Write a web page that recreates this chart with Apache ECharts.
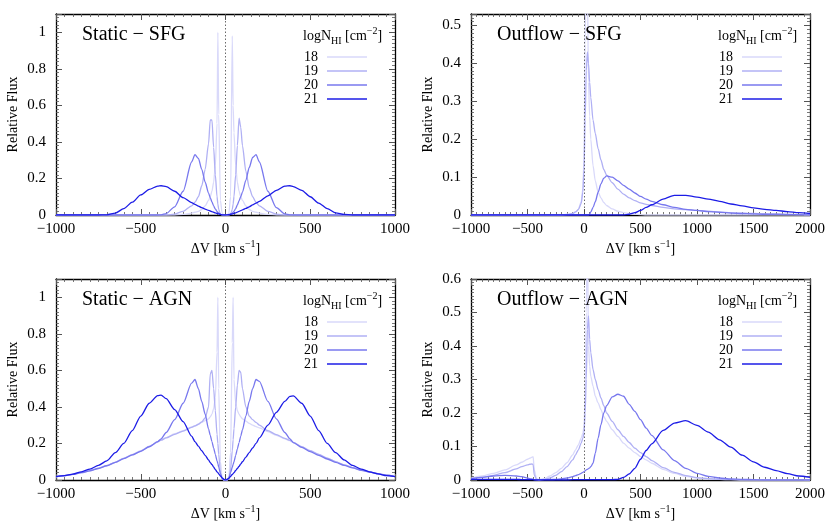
<!DOCTYPE html>
<html>
<head>
<meta charset="utf-8">
<script src="https://cdn.jsdelivr.net/npm/echarts@6/dist/echarts.min.js"></script>
<style>
  html, body { margin: 0; padding: 0; background: #fff; }
  #chart { width: 830px; height: 531px; }
</style>
</head>
<body>
<div id="chart"></div>
<script>
// column densities (legend)
var columns = ['18', '19', '20', '21'];
var colors = ['#d9d9fa', '#b0b0f4', '#7878ee', '#1c1ce6'];

// velocity grid of the static panels, km/s
var staticV = [
  -1000,-950,-900,-850,-800,-750,-700,-650,-600,-550,-500,-450,-400,
  -380,-350,-300,-250,-200,-180,-160,-140,-120,-100,
  -90,-80,-70,-60,-50,-45,-40,-30,-20,-10,
  0,10,20,30,40,45,50,60,70,80,90,
  100,120,140,160,180,200,250,300,350,380,
  400,450,500,550,600,650,700,750,800,850,900,950,1000];

// velocity grid of the outflow panels, km/s
var outflowV = [
  -1000,-900,-800,-700,-600,-550,-500,-480,-460,-450,-440,-420,-400,
  -350,-300,-250,-200,-150,-100,-75,-50,-25,-10,
  0,10,20,30,40,50,60,
  80,100,125,150,175,200,250,300,350,400,450,500,550,600,
  700,800,900,1000,1100,1200,1300,1400,1500,1600,1700,1800,1900,2000];

// Static - SFG
var staticSfg18 = [
  0,0,0,0,0,0,0,0,0,0,0,0,0,
  0,0,0,0.003,0.01,0.015,0.02,0.03,0.05,0.08,
  0.1,0.13,0.18,0.27,0.5,1.0,0.55,0.08,0.01,0,
  0,0,0.01,0.1,0.98,0.6,0.45,0.27,0.18,0.13,0.1,
  0.08,0.05,0.03,0.02,0.015,0.01,0.003,0,0,0,
  0,0,0,0,0,0,0,0,0,0,0,0,0];
var staticSfg19 = [
  0,0,0,0,0,0,0,0,0,0,0,0,0,
  0,0,0.005,0.02,0.05,0.07,0.1,0.16,0.25,0.39,
  0.52,0.52,0.37,0.22,0.1,0.06,0.03,0.005,0,0,
  0,0,0,0.005,0.03,0.06,0.1,0.22,0.38,0.53,0.48,
  0.38,0.24,0.15,0.1,0.07,0.05,0.02,0.005,0,0,
  0,0,0,0,0,0,0,0,0,0,0,0,0];
var staticSfg20 = [
  0,0,0,0,0,0,0,0,0,0,0,0,0,
  0.001,0.008,0.045,0.13,0.29,0.33,0.31,0.25,0.18,0.12,
  0.095,0.072,0.05,0.033,0.02,0.015,0.01,0.004,0.001,0,
  0,0,0.001,0.004,0.01,0.015,0.02,0.035,0.055,0.078,0.1,
  0.125,0.19,0.26,0.315,0.33,0.29,0.13,0.04,0.006,0.001,
  0,0,0,0,0,0,0,0,0,0,0,0,0];
var staticSfg21 = [
  0,0,0,0,0,0,0.001,0.01,0.035,0.07,0.11,0.14,0.158,
  0.16,0.155,0.13,0.095,0.068,0.058,0.049,0.04,0.032,0.025,
  0.022,0.018,0.015,0.012,0.009,0.007,0.006,0.003,0.001,0,
  0,0.001,0.002,0.004,0.006,0.007,0.009,0.012,0.016,0.02,0.024,
  0.028,0.036,0.045,0.055,0.065,0.075,0.105,0.135,0.158,0.16,
  0.155,0.135,0.1,0.065,0.035,0.012,0.003,0,0,0,0,0,0];

// Outflow - SFG
var outflowSfg18 = [
  0,0,0,0,0,0,0,0,0,0,0,0,0,
  0,0,0,0,0.002,0.004,0.008,0.015,0.035,0.07,
  0.15,0.45,0.7,0.6,0.35,0.26,0.2,
  0.13,0.09,0.06,0.045,0.033,0.025,0.016,0.01,0.006,0.004,0.002,0.001,0,0,
  0,0,0,0,0,0,0,0,0,0,0,0,0,0];
var outflowSfg19 = [
  0,0,0,0,0,0,0,0,0,0,0,0,0,
  0,0,0,0,0.001,0.004,0.008,0.014,0.03,0.06,
  0.12,0.25,0.38,0.43,0.4,0.35,0.31,
  0.25,0.215,0.175,0.145,0.12,0.105,0.085,0.068,0.055,0.045,0.038,0.032,0.028,0.025,
  0.02,0.016,0.014,0.012,0.01,0.008,0.006,0.005,0.004,0.003,0.002,0.002,0.001,0.001];
var outflowSfg20 = [
  0,0,0,0,0,0,0,0,0,0,0,0,0,
  0,0,0,0,0,0,0,0,0,0,
  0,0,0,0,0,0.002,0.008,
  0.02,0.035,0.06,0.082,0.097,0.103,0.1,0.09,0.078,0.068,0.058,0.049,0.042,0.036,
  0.027,0.02,0.015,0.012,0.009,0.007,0.005,0.004,0.003,0.002,0.002,0.001,0.001,0];
var outflowSfg21 = [
  0,0,0,0,0,0,0,0,0,0,0,0,0,
  0,0,0,0,0,0,0,0,0,0,
  0,0,0,0,0,0,0,
  0,0,0,0,0,0,0,0,0,0.002,0.006,0.012,0.02,0.027,
  0.042,0.052,0.052,0.047,0.042,0.036,0.029,0.024,0.019,0.015,0.012,0.009,0.006,0.004];

// Static - AGN
var staticAgn18 = [
  0.018,0.025,0.032,0.042,0.052,0.065,0.08,0.098,0.12,0.14,0.16,0.185,0.21,
  0.22,0.232,0.253,0.27,0.29,0.297,0.305,0.315,0.325,0.335,
  0.345,0.36,0.39,0.45,0.7,1.0,0.5,0.1,0.01,0,
  0,0,0.02,0.15,0.75,1.0,0.55,0.42,0.38,0.36,0.345,
  0.335,0.322,0.31,0.3,0.292,0.285,0.265,0.245,0.225,0.215,
  0.205,0.18,0.16,0.14,0.12,0.1,0.083,0.068,0.055,0.044,0.035,0.027,0.02];
var staticAgn19 = [
  0.017,0.023,0.031,0.041,0.051,0.064,0.079,0.097,0.118,0.138,0.158,0.183,0.208,
  0.218,0.23,0.25,0.268,0.288,0.296,0.305,0.318,0.34,0.4,
  0.58,0.6,0.5,0.38,0.25,0.2,0.14,0.04,0.005,0,
  0,0,0.01,0.06,0.16,0.22,0.28,0.4,0.52,0.6,0.59,
  0.5,0.4,0.35,0.33,0.315,0.3,0.27,0.248,0.228,0.217,
  0.206,0.182,0.16,0.14,0.12,0.1,0.083,0.068,0.055,0.044,0.035,0.027,0.02];
var staticAgn20 = [
  0.018,0.024,0.031,0.04,0.05,0.063,0.078,0.096,0.117,0.137,0.157,0.182,0.21,
  0.225,0.26,0.33,0.42,0.53,0.55,0.5,0.43,0.36,0.28,
  0.245,0.21,0.175,0.14,0.105,0.09,0.07,0.035,0.01,0,
  0,0,0.01,0.04,0.07,0.085,0.1,0.135,0.17,0.205,0.24,
  0.275,0.35,0.43,0.5,0.55,0.54,0.43,0.335,0.26,0.225,
  0.205,0.178,0.155,0.135,0.115,0.097,0.08,0.066,0.053,0.043,0.034,0.026,0.019];
var staticAgn21 = [
  0.018,0.024,0.032,0.045,0.06,0.08,0.105,0.15,0.2,0.27,0.35,0.42,0.462,
  0.465,0.445,0.385,0.32,0.24,0.21,0.185,0.16,0.135,0.11,
  0.095,0.085,0.07,0.058,0.045,0.04,0.033,0.022,0.012,0.004,
  0,0.004,0.01,0.02,0.03,0.035,0.04,0.052,0.063,0.075,0.088,
  0.1,0.125,0.15,0.175,0.2,0.23,0.3,0.37,0.43,0.458,
  0.46,0.42,0.35,0.27,0.2,0.15,0.11,0.08,0.06,0.045,0.033,0.024,0.018];

// Outflow - AGN
var outflowAgn18 = [
  0.005,0.012,0.02,0.03,0.045,0.053,0.062,0.065,0.068,0.07,0.03,0.004,0.001,
  0.004,0.012,0.022,0.035,0.052,0.075,0.09,0.105,0.125,0.14,
  0.16,0.25,0.5,0.75,0.4,0.34,0.31,
  0.28,0.25,0.23,0.21,0.19,0.175,0.15,0.13,0.11,0.095,0.082,0.07,0.06,0.05,
  0.032,0.02,0.011,0.006,0.003,0.002,0.001,0,0,0,0,0,0,0];
var outflowAgn19 = [
  0.004,0.008,0.014,0.022,0.033,0.04,0.045,0.047,0.048,0.045,0.015,0.002,0,
  0.002,0.006,0.014,0.025,0.04,0.06,0.075,0.09,0.11,0.125,
  0.14,0.2,0.3,0.45,0.49,0.42,0.38,
  0.33,0.3,0.27,0.245,0.222,0.2,0.175,0.15,0.13,0.112,0.095,0.082,0.07,0.058,
  0.037,0.023,0.013,0.007,0.004,0.002,0.001,0,0,0,0,0,0,0];
var outflowAgn20 = [
  0.004,0.008,0.012,0.014,0.012,0.01,0.006,0.004,0.003,0.002,0.001,0,0,
  0.001,0.001,0.002,0.003,0.006,0.01,0.013,0.016,0.02,0.023,
  0.025,0.027,0.03,0.032,0.034,0.036,0.04,
  0.05,0.08,0.125,0.165,0.2,0.222,0.248,0.256,0.25,0.226,0.205,0.18,0.155,0.133,
  0.09,0.058,0.035,0.02,0.011,0.006,0.003,0.002,0.001,0,0,0,0,0];
var outflowAgn21 = [
  0.002,0.002,0.002,0.002,0.002,0.001,0.001,0.001,0.001,0.001,0,0,0,
  0,0,0,0,0,0.001,0.001,0.001,0.001,0.001,
  0.001,0.001,0.001,0.001,0.001,0.001,0.001,
  0.001,0.001,0.001,0.001,0.001,0.001,0.001,0.002,0.008,0.018,0.035,0.062,0.088,0.108,
  0.148,0.17,0.177,0.163,0.143,0.12,0.098,0.074,0.054,0.038,0.028,0.019,0.012,0.008];

var panels = [
  { title: 'Static \u2212 SFG',  v: staticV,  ys: [staticSfg18, staticSfg19, staticSfg20, staticSfg21],
    left: 56,  top: 14,  xMax: 1000, yMax: 1.1,  yStep: 0.2, hideTop: true },
  { title: 'Outflow \u2212 SFG', v: outflowV, ys: [outflowSfg18, outflowSfg19, outflowSfg20, outflowSfg21],
    left: 471, top: 14,  xMax: 2000, yMax: 0.53, yStep: 0.1, hideTop: true },
  { title: 'Static \u2212 AGN',  v: staticV,  ys: [staticAgn18, staticAgn19, staticAgn20, staticAgn21],
    left: 56,  top: 279, xMax: 1000, yMax: 1.1,  yStep: 0.2, hideTop: true },
  { title: 'Outflow \u2212 AGN', v: outflowV, ys: [outflowAgn18, outflowAgn19, outflowAgn20, outflowAgn21],
    left: 471, top: 279, xMax: 2000, yMax: 0.6,  yStep: 0.1, hideTop: false }
];

var font = 'Liberation Serif';
var minus = function (s) { return String(s).replace('-', '\u2212'); };

var grids = [], xAxes = [], yAxes = [], series = [], titles = [], legends = [], graphics = [];

panels.forEach(function (p, k) {
  grids.push({ left: p.left, top: p.top, width: 339, height: 201, show: false });

  var tickIn = { show: true, inside: true, length: 6, lineStyle: { color: '#555', width: 1 } };
  var minorIn = { show: true, splitNumber: 10, length: 3, lineStyle: { color: '#555', width: 0.8 } };
  var frame = { show: true, onZero: false, lineStyle: { color: '#000', width: 1.3 } };

  xAxes.push({
    type: 'value', gridIndex: k, position: 'bottom', min: -1000, max: p.xMax, interval: 500,
    axisLine: frame, axisTick: tickIn, minorTick: minorIn, splitLine: { show: false },
    axisLabel: { formatter: minus, fontFamily: font, fontSize: 15, color: '#000', margin: 7 },
    name: '{a|\u0394V [km s}{p|\u22121}{a|]}', nameLocation: 'middle', nameGap: 24,
    nameTextStyle: { rich: {
      a: { fontFamily: font, fontSize: 14, color: '#000', lineHeight: 20, verticalAlign: 'middle' },
      p: { fontFamily: font, fontSize: 10, color: '#000', lineHeight: 10, verticalAlign: 'top' }
    } }
  });
  xAxes.push({
    type: 'value', gridIndex: k, position: 'top', min: -1000, max: p.xMax, interval: 500,
    axisLine: frame, axisTick: tickIn, minorTick: minorIn, splitLine: { show: false },
    axisLabel: { show: false }
  });
  yAxes.push({
    type: 'value', gridIndex: k, position: 'left', min: 0, max: p.yMax, interval: p.yStep,
    axisLine: frame, axisTick: tickIn, minorTick: minorIn, splitLine: { show: false },
    axisLabel: { fontFamily: font, fontSize: 15, color: '#000', margin: 10, showMaxLabel: !p.hideTop },
    name: 'Relative Flux', nameLocation: 'middle', nameGap: 36,
    nameTextStyle: { fontFamily: font, fontSize: 14, color: '#000' }
  });
  yAxes.push({
    type: 'value', gridIndex: k, position: 'right', min: 0, max: p.yMax, interval: p.yStep,
    axisLine: frame, axisTick: tickIn, minorTick: minorIn, splitLine: { show: false },
    axisLabel: { show: false }
  });

  p.ys.forEach(function (ys, j) {
    var s = {
      name: columns[j], type: 'line', xAxisIndex: 2 * k, yAxisIndex: 2 * k,
      data: p.v.map(function (v, i) { return [v, ys[i]]; }),
      showSymbol: false, smooth: 0.25, smoothMonotone: 'x',
      lineStyle: { color: colors[j], width: 1.3 }, itemStyle: { color: colors[j] },
      z: 3 + j
    };
    if (j === 0) {
      s.markLine = {
        silent: true, symbol: 'none', label: { show: false },
        lineStyle: { color: '#444', type: [1.5, 2], width: 0.8 },
        data: [{ xAxis: 0 }]
      };
    }
    series.push(s);
  });

  titles.push({
    text: p.title, left: p.left + 21, top: p.top + 6,
    textStyle: { fontFamily: font, fontSize: 20, fontWeight: 'normal', color: '#000' }
  });

  legends.push({
    data: columns, orient: 'vertical', right: 830 - (p.left + 311) - 5, top: p.top + 31,
    align: 'right', icon: 'rect', itemWidth: 40, itemHeight: 1.6, itemGap: 0,
    textStyle: { fontFamily: font, fontSize: 14, color: '#000', lineHeight: 13.4, padding: [0, 4, 0, 0] }
  });

  graphics.push({
    type: 'text', left: p.left + 247, top: p.top + 12,
    style: {
      text: '{a|logN}{b|HI}{a| [cm}{c|\u22122}{a|]}',
      rich: {
        a: { fontFamily: font, fontSize: 14, fill: '#000', lineHeight: 20, verticalAlign: 'middle' },
        b: { fontFamily: font, fontSize: 10, fill: '#000', lineHeight: 10, verticalAlign: 'bottom' },
        c: { fontFamily: font, fontSize: 10, fill: '#000', lineHeight: 10, verticalAlign: 'top' }
      }
    }
  });
});

var chart = echarts.init(document.getElementById('chart'));
chart.setOption({
  animation: false,
  backgroundColor: '#fff',
  title: titles,
  legend: legends,
  grid: grids,
  xAxis: xAxes,
  yAxis: yAxes,
  series: series,
  graphic: graphics
});
window.addEventListener('resize', function () { chart.resize(); });
</script>
</body>
</html>
